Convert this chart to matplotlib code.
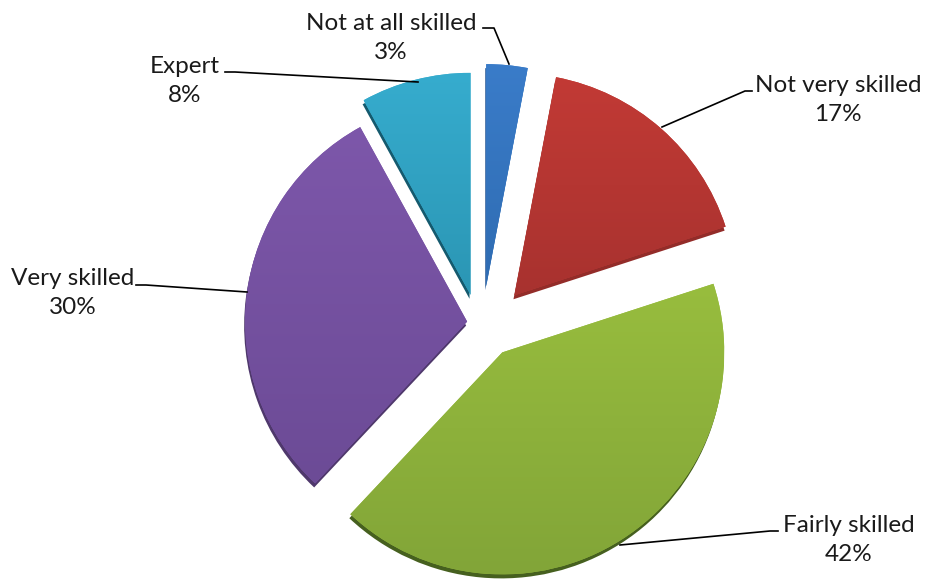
import numpy as np
import matplotlib
matplotlib.use('Agg')
import matplotlib.pyplot as plt
from matplotlib.colors import LinearSegmentedColormap

categories = ['Not at all skilled', 'Not very skilled', 'Fairly skilled', 'Very skilled', 'Expert']
shares = [3, 17, 42, 30, 8]
explode = [34, 37, 36, 19, 26]
light = ['#3a7cc9', '#c23a35', '#98bd3e', '#7d57aa', '#36acce']
dark = ['#2f6cb2', '#a8322f', '#82a538', '#6c4b96', '#2b96b4']
rim = ['#2f5f9a', '#932c29', '#46601f', '#4f386c', '#155a6e']
# the original is a perspective pie, some slices sit off their radial line
nudge_x = [-5, 2, -5, -2, -11]
nudge_y = [0, -3, -2, -4, 0]
WIDTH, HEIGHT = 928, 579
CENTER = (488, 579 - 320)
RADIUS = 222

plt.rcParams['font.family'] = ['Lato', 'DejaVu Sans']

fig = plt.figure(figsize=(WIDTH / 100, HEIGHT / 100), dpi=100)
ax = fig.add_axes([0, 0, 1, 1])


def draw_pie(radius, center, colors, zorder):
    wedges, _ = ax.pie(shares, explode=explode, startangle=90, counterclock=False,
                       colors=colors, center=center, radius=radius, frame=True,
                       wedgeprops={'linewidth': 0, 'zorder': zorder})
    for wedge, dx, dy in zip(wedges, nudge_x, nudge_y):
        wedge.set_center((wedge.center[0] + dx, wedge.center[1] + dy))
    return wedges


# thin dark rim under the slices gives the 3d look
draw_pie(RADIUS, (CENTER[0] - 1, CENTER[1] - 4), rim, 2)
wedges = draw_pie(RADIUS, CENTER, light, 3)

# vertical shading clipped to each slice
grad = np.linspace(0, 1, 256).reshape(-1, 1)
for wedge, c1, c2 in zip(wedges, light, dark):
    cmap = LinearSegmentedColormap.from_list('shade', [c1, c2])
    bb = wedge.get_path().transformed(wedge.get_patch_transform()).get_extents()
    im = ax.imshow(grad, cmap=cmap, extent=[bb.x0, bb.x1, bb.y0, bb.y1], origin='upper',
                   aspect='auto', zorder=4)
    im.set_clip_path(wedge)

ax.set_xlim(0, WIDTH)
ax.set_ylim(0, HEIGHT)
ax.set_aspect('auto')
ax.axis('off')


def to_y(py):
    return HEIGHT - py


label_at = [(391, 38), (838, 100), (849, 540), (73, 293), (185, 81)]
line_paths = [
    [(483, 28), (494, 28), (509, 64)],
    [(752, 91), (745, 91), (662, 127)],
    [(778, 531), (770, 531), (620, 545)],
    [(136, 285), (146, 285), (247, 292)],
    [(225, 72), (235, 72), (418, 82)],
]
for name, share, (lx, ly), path in zip(categories, shares, label_at, line_paths):
    ax.text(lx, to_y(ly), f'{name}\n{share}%', ha='center', va='center', fontsize=17.5,
            color='#1a1a1a', linespacing=1.5, zorder=6)
    xs, ys = zip(*path)
    ax.plot(xs, [to_y(y) for y in ys], color='black', lw=1.2, zorder=5)

fig.savefig('out.png', dpi=100)
